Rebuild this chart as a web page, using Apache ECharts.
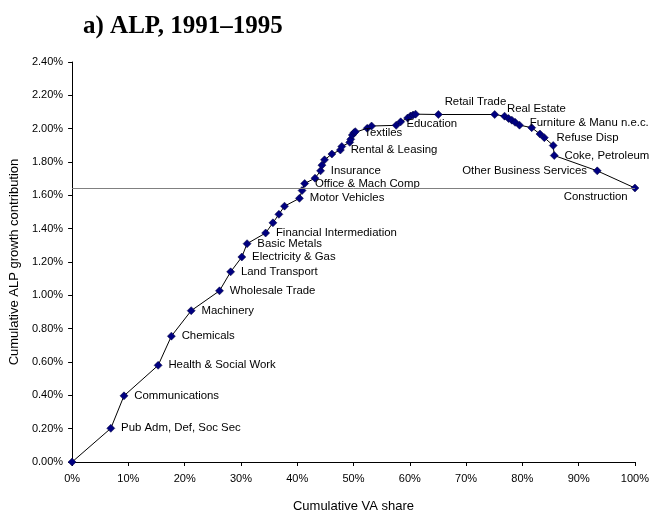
<!DOCTYPE html>
<html>
<head>
<meta charset="utf-8">
<script src="https://cdn.jsdelivr.net/npm/echarts@6/dist/echarts.min.js"></script>
<style>
html,body{margin:0;padding:0;background:#fff;}
#chart{width:652px;height:518px;}
</style>
</head>
<body>
<div id="chart"></div>
<script>
// Cumulative value-added share (%) — x
const cumVAShare = [0, 6.88, 9.22, 15.29, 17.64, 21.16, 26.19, 28.17, 30.16, 31.09, 34.39, 35.68, 36.74, 37.74, 40.39, 40.86, 41.32, 43.16, 44.15, 44.39, 44.85, 46.16, 47.67, 47.92, 49.33, 49.51, 49.79, 50.09, 50.32, 52.43, 53.21, 57.58, 58.38, 59.61, 60.14, 60.58, 61.02, 65.08, 75.08, 76.84, 77.55, 78.13, 78.71, 79.49, 81.66, 83.12, 83.90, 85.48, 85.66, 93.30, 100];
// Cumulative ALP growth contribution (%) — y
const cumALPContribution = [0, 0.202, 0.397, 0.580, 0.755, 0.908, 1.027, 1.141, 1.230, 1.310, 1.374, 1.435, 1.486, 1.535, 1.582, 1.629, 1.671, 1.703, 1.747, 1.781, 1.813, 1.848, 1.872, 1.893, 1.918, 1.936, 1.962, 1.976, 1.982, 2.002, 2.016, 2.020, 2.041, 2.064, 2.076, 2.082, 2.087, 2.085, 2.085, 2.075, 2.061, 2.051, 2.038, 2.021, 2.006, 1.968, 1.946, 1.899, 1.839, 1.747, 1.644];
// Industry labels (empty = unlabelled point)
const industryLabels = ['', 'Pub Adm, Def, Soc Sec', 'Communications', 'Health & Social Work', 'Chemicals', 'Machinery', 'Wholesale Trade', 'Land Transport', 'Electricity & Gas', 'Basic Metals', 'Financial Intermediation', '', '', '', 'Motor Vehicles', '', 'Office & Mach Comp', '', 'Insurance', '', '', '', 'Rental & Leasing', '', '', '', '', 'Textiles', '', '', '', 'Education', '', '', '', '', '', 'Retail Trade', 'Real Estate', '', '', '', '', 'Furniture & Manu n.e.c.', '', '', 'Refuse Disp', '', 'Coke, Petroleum', 'Other Business Services', 'Construction'];
// Total ALP growth (reference line)
const totalContribution = 1.644;
// Axis ticks
const xTicks = { min: 0, max: 100, interval: 10 };
const yTicks = { min: 0, max: 2.4, interval: 0.2 };

// Label placement (style only)
const labelPlacement = {
  'Retail Trade': { position: 'right', offset: [-4, -13] },
  'Real Estate': { position: 'right', offset: [2, -6] },
  'Furniture & Manu n.e.c.': { position: 'right', offset: [0, -2] },
  'Refuse Disp': { position: 'right', offset: [2, 0] },
  'Education': { position: 'right', offset: [0, -1] },
  'Other Business Services': { position: 'left', offset: [0, 0] },
  'Construction': { position: 'left', offset: [3, 9] }
};

const seriesData = cumVAShare.map((x, i) => {
  const name = industryLabels[i];
  const item = { value: [x, cumALPContribution[i]], name: name };
  if (name) {
    const pl = labelPlacement[name] || { position: 'right', offset: [0, 0] };
    item.label = { show: true, position: pl.position, offset: pl.offset, formatter: name };
  }
  return item;
});

const font = "'Liberation Sans', Arial, sans-serif";
const chart = echarts.init(document.getElementById('chart'), null, { renderer: 'canvas' });
chart.setOption({
  animation: false,
  backgroundColor: '#ffffff',
  title: {
    text: 'a) ALP, 1991\u20131995',
    left: 83,
    top: 14,
    padding: 0,
    textStyle: { fontFamily: "'Liberation Serif', 'Times New Roman', serif", fontWeight: 'bold', fontSize: 25, color: '#000' }
  },
  grid: { left: 71, right: 14, top: 62, bottom: 52, containLabel: false },
  xAxis: {
    type: 'value',
    min: xTicks.min, max: xTicks.max, interval: xTicks.interval,
    name: 'Cumulative VA share',
    nameLocation: 'middle',
    nameGap: 38,
    nameTextStyle: { fontFamily: font, fontSize: 13, color: '#000' },
    axisLine: { show: true, lineStyle: { color: '#000', width: 1 } },
    axisTick: { show: true, inside: false, length: 4, lineStyle: { color: '#000' } },
    axisLabel: { margin: 11, fontFamily: font, fontSize: 11, color: '#000', formatter: v => Math.round(v) + '%' },
    splitLine: { show: false }
  },
  yAxis: {
    type: 'value',
    min: yTicks.min, max: yTicks.max, interval: yTicks.interval,
    name: 'Cumulative ALP growth contribution',
    nameLocation: 'middle',
    nameRotate: 90,
    nameGap: 45,
    nameTextStyle: { fontFamily: font, fontSize: 13, color: '#000' },
    axisLine: { show: true, lineStyle: { color: '#000', width: 1 } },
    axisTick: { show: true, inside: false, length: 4, lineStyle: { color: '#000' } },
    axisLabel: { margin: 9, fontFamily: font, fontSize: 11, color: '#000', formatter: v => v.toFixed(2) + '%' },
    splitLine: { show: false }
  },
  series: [{
    type: 'line',
    data: seriesData,
    symbol: 'diamond',
    symbolSize: 8,
    showAllSymbol: true,
    itemStyle: { color: '#000080', borderColor: '#000033', borderWidth: 0.5 },
    lineStyle: { color: '#000', width: 1 },
    label: { show: false, distance: 6, fontFamily: font, fontSize: 11.4, color: '#000' },
    emphasis: { disabled: true },
    markLine: {
      silent: true,
      symbol: 'none',
      label: { show: false },
      lineStyle: { color: '#808080', width: 1, type: 'solid' },
      data: [{ yAxis: totalContribution }]
    },
    z: 3
  }]
});
</script>
</body>
</html>
